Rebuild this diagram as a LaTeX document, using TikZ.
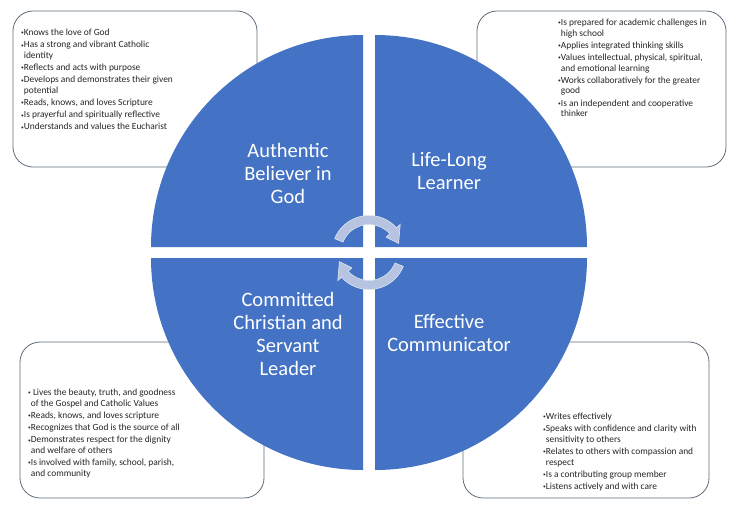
\documentclass[tikz,border=0pt]{standalone}
\usepackage{fontspec}
\setmainfont{Carlito}
\definecolor{qblue}{RGB}{68,114,196}
\definecolor{boxline}{RGB}{96,108,124}
\definecolor{arrfill}{RGB}{182,196,226}
\newcommand\bu{\makebox[2.7pt][l]{\fontsize{5.5}{5.5}\selectfont\raisebox{0.7pt}{•}}}
\newcommand\ct{\hspace*{2.7pt}}
\begin{document}
\begin{tikzpicture}[x=1pt,y=-1pt,
  infobox/.style={draw=boxline, line width=0.8pt, rounded corners=20pt, fill=white},
  quad/.style={fill=qblue},
  cyc/.style={fill=arrfill, draw=white!55!arrfill, line width=0.6pt},
  heading/.style={text=white, align=center, font=\fontsize{20.5}{23}\selectfont, inner sep=0pt},
  listtext/.style={anchor=base west, inner sep=0pt, font=\fontsize{9.4}{10.6}\selectfont, text=black!85}]
\useasboundingbox (0,0) rectangle (738,514);
\fill[white] (0,0) rectangle (738,514);

% info boxes
\draw[infobox] (13,11) rectangle (257,167);
\draw[infobox] (477,11) rectangle (726,167);
\draw[infobox] (20,342) rectangle (264,498);
\draw[infobox] (463,342) rectangle (709,498);

% quadrants
\fill[quad] (363,247) -- (151,247) arc[start angle=180,end angle=270,radius=212] -- cycle;
\fill[quad] (375,247) -- (375,35) arc[start angle=270,end angle=360,radius=212] -- cycle;
\fill[quad] (375,258) -- (587,258) arc[start angle=0,end angle=90,radius=212] -- cycle;
\fill[quad] (363,258) -- (363,470) arc[start angle=90,end angle=180,radius=212] -- cycle;

% cycle arrows
\begin{scope}[shift={(369,252.5)}]
\filldraw[cyc] (202:37) arc[start angle=202,end angle=318,radius=37] -- (318:42) -- (343:31) -- (318:23) -- (318:28) arc[start angle=318,end angle=202,radius=28] -- cycle;
\filldraw[cyc] (22:37) arc[start angle=22,end angle=138,radius=37] -- (138:42) -- (163:31) -- (138:23) -- (138:28) arc[start angle=138,end angle=22,radius=28] -- cycle;
\end{scope}

% headings
\node[heading] (ab) at (288,173.5) {Authentic\\Believer in\\God};
\node[heading] (ll) at (449,171.5) {Life-Long\\Learner};
\node[heading] (cc) at (288,333.5) {Committed\\Christian and\\Servant\\Leader};
\node[heading] (ec) at (449,332.5) {Effective\\Communicator};

% lists
\node[listtext] (tltext) at (21,35.5) {\begin{tabular}[t]{@{}l@{}}
\bu Knows the love of God\\[1.6pt]
\bu Has a strong and vibrant Catholic\\
\ct identity\\[1.6pt]
\bu Reflects and acts with purpose\\[1.6pt]
\bu Develops and demonstrates their given\\
\ct potential\\[1.6pt]
\bu Reads, knows, and loves Scripture\\[1.6pt]
\bu Is prayerful and spiritually reflective\\[1.6pt]
\bu Understands and values the Eucharist
\end{tabular}};

\node[listtext] (trtext) at (558,25.5) {\begin{tabular}[t]{@{}l@{}}
\bu Is prepared for academic challenges in\\
\ct high school\\[1.6pt]
\bu Applies integrated thinking skills\\[1.6pt]
\bu Values intellectual, physical, spiritual,\\
\ct and emotional learning\\[1.6pt]
\bu Works collaboratively for the greater\\
\ct good\\[1.6pt]
\bu Is an independent and cooperative\\
\ct thinker
\end{tabular}};

\node[listtext] (bltext) at (28,395.5) {\begin{tabular}[t]{@{}l@{}}
\bu\ Lives the beauty, truth, and goodness\\
\ct of the Gospel and Catholic Values\\[1.6pt]
\bu Reads, knows, and loves scripture\\[1.6pt]
\bu Recognizes that God is the source of all\\[1.6pt]
\bu Demonstrates respect for the dignity\\
\ct and welfare of others\\[1.6pt]
\bu Is involved with family, school, parish,\\
\ct and community
\end{tabular}};

\node[listtext] (brtext) at (543,419.5) {\begin{tabular}[t]{@{}l@{}}
\bu Writes effectively\\[1.6pt]
\bu Speaks with confidence and clarity with\\
\ct sensitivity to others\\[1.6pt]
\bu Relates to others with compassion and\\
\ct respect\\[1.6pt]
\bu Is a contributing group member\\[1.6pt]
\bu Listens actively and with care
\end{tabular}};
\end{tikzpicture}
\end{document}
